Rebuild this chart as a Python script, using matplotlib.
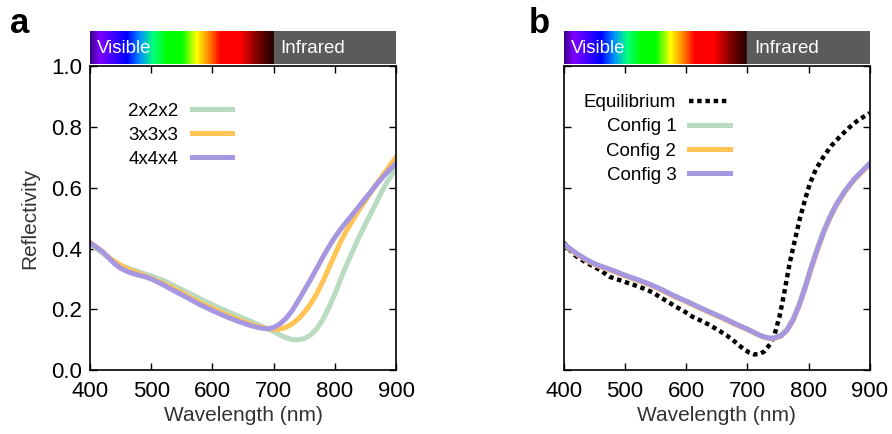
import numpy as np
import matplotlib.pyplot as plt
from matplotlib.colors import LinearSegmentedColormap

plt.rcParams['font.family'] = ['Liberation Sans', 'DejaVu Sans']

# panel a
wl_a = [400, 410, 420, 430, 440, 450, 460, 470, 480, 490, 500, 520, 540, 560, 580, 600,
        620, 640, 660, 680, 690, 700, 710, 720, 730, 740, 750, 760, 770, 780, 790, 800,
        810, 820, 830, 840, 850, 860, 870, 880, 890, 900]
r_222 = [0.415, 0.400, 0.385, 0.370, 0.357, 0.345, 0.337, 0.330, 0.323, 0.316, 0.310, 0.295,
         0.275, 0.255, 0.235, 0.215, 0.197, 0.180, 0.163, 0.145, 0.136, 0.127, 0.116, 0.107,
         0.101, 0.100, 0.104, 0.115, 0.135, 0.165, 0.205, 0.250, 0.302, 0.350, 0.395, 0.440,
         0.480, 0.520, 0.560, 0.600, 0.633, 0.665]
r_333 = [0.420, 0.405, 0.390, 0.372, 0.357, 0.345, 0.335, 0.326, 0.318, 0.310, 0.302, 0.285,
         0.265, 0.243, 0.222, 0.203, 0.185, 0.168, 0.153, 0.141, 0.137, 0.134, 0.135, 0.141,
         0.152, 0.168, 0.190, 0.217, 0.250, 0.290, 0.335, 0.380, 0.425, 0.462, 0.495, 0.528,
         0.558, 0.588, 0.617, 0.645, 0.673, 0.700]
r_444 = [0.418, 0.405, 0.390, 0.370, 0.350, 0.335, 0.325, 0.318, 0.312, 0.307, 0.300, 0.280,
         0.258, 0.237, 0.215, 0.196, 0.178, 0.162, 0.148, 0.138, 0.136, 0.140, 0.152, 0.170,
         0.195, 0.228, 0.262, 0.297, 0.333, 0.370, 0.405, 0.437, 0.465, 0.490, 0.515, 0.540,
         0.565, 0.590, 0.615, 0.638, 0.660, 0.680]

# panel b
wl_eq = [400, 410, 420, 430, 440, 450, 460, 475, 490, 500, 515, 530, 545, 557, 570, 584,
         598, 611, 625, 639, 652, 666, 680, 693, 703, 711, 720, 728, 737, 745, 753, 760,
         769, 778, 786, 795, 802, 812, 824, 837, 851, 865, 878, 890, 900]
r_eq = [0.420, 0.395, 0.375, 0.362, 0.350, 0.340, 0.328, 0.307, 0.297, 0.290, 0.280, 0.269,
        0.256, 0.241, 0.225, 0.208, 0.192, 0.175, 0.162, 0.148, 0.132, 0.115, 0.093, 0.071,
        0.058, 0.052, 0.053, 0.062, 0.085, 0.120, 0.180, 0.250, 0.350, 0.430, 0.500, 0.565,
        0.612, 0.660, 0.700, 0.737, 0.767, 0.795, 0.817, 0.833, 0.845]
wl_cfg = [400, 410, 420, 430, 440, 450, 460, 470, 480, 490, 500, 520, 540, 560, 580, 600,
          620, 640, 660, 680, 700, 710, 720, 730, 737, 745, 755, 765, 775, 785, 795, 805,
          815, 825, 835, 845, 860, 875, 890, 900]
r_cfg1 = [0.415, 0.400, 0.385, 0.372, 0.360, 0.350, 0.342, 0.335, 0.328, 0.320, 0.312, 0.298,
          0.283, 0.265, 0.245, 0.227, 0.208, 0.190, 0.172, 0.153, 0.135, 0.125, 0.115, 0.108,
          0.105, 0.107, 0.115, 0.135, 0.170, 0.220, 0.280, 0.345, 0.405, 0.460, 0.505, 0.545,
          0.592, 0.630, 0.660, 0.680]
r_cfg2 = [0.413, 0.398, 0.383, 0.370, 0.358, 0.348, 0.340, 0.333, 0.326, 0.318, 0.310, 0.296,
          0.281, 0.263, 0.243, 0.225, 0.206, 0.188, 0.170, 0.151, 0.134, 0.124, 0.114, 0.107,
          0.104, 0.105, 0.112, 0.131, 0.165, 0.214, 0.273, 0.338, 0.398, 0.454, 0.500, 0.540,
          0.588, 0.627, 0.657, 0.677]
r_cfg3 = [0.415, 0.400, 0.385, 0.372, 0.360, 0.350, 0.342, 0.335, 0.328, 0.320, 0.312, 0.298,
          0.283, 0.265, 0.245, 0.227, 0.208, 0.190, 0.172, 0.153, 0.135, 0.125, 0.115, 0.108,
          0.105, 0.106, 0.113, 0.132, 0.166, 0.215, 0.275, 0.340, 0.400, 0.456, 0.502, 0.542,
          0.590, 0.628, 0.659, 0.679]

spec_nodes = [0.0, 0.05, 0.20, 0.27, 0.34, 0.42, 0.50, 0.58, 0.65, 0.71, 0.82, 0.91, 1.0]
spec_cols = ['#3a0090', '#8000ff', '#0000ff', '#0090ff', '#00ff80', '#00ff00', '#00ff00',
             '#ffff00', '#ff8000', '#ff0000', '#ff0000', '#800000', '#200000']

green = '#b9dbc1'
orange = '#ffc453'
purple = '#a796e0'

fig = plt.figure(figsize=(8.92, 4.34), dpi=100)
cmap = LinearSegmentedColormap.from_list('spec', list(zip(spec_nodes, spec_cols)))


def setup(ax, barax, labels=True):
    ax.set_xlim(400, 900)
    ax.set_ylim(0, 1)
    ax.set_xticks([400, 500, 600, 700, 800, 900])
    ax.set_yticks([0, 0.2, 0.4, 0.6, 0.8, 1.0])
    ax.tick_params(direction='in', top=True, right=True, length=5, width=1,
                   labelsize=16, pad=6)
    ax.tick_params(axis='x', pad=8)
    if labels:
        ax.set_yticklabels(['0.0', '0.2', '0.4', '0.6', '0.8', '1.0'])
        ax.set_ylabel('Reflectivity', fontsize=15, color='#333333', labelpad=8)
    else:
        ax.set_yticklabels([])
    ax.set_xlabel('Wavelength (nm)', fontsize=15, color='#333333', labelpad=3)
    for s in ax.spines.values():
        s.set_linewidth(1.2)
    # spectrum bar
    grad = np.linspace(0, 1, 300).reshape(1, -1)
    barax.imshow(grad, aspect='auto', cmap=cmap, extent=[400, 700, 0, 1])
    barax.axvspan(700, 900, color='#5b5b5b')
    barax.set_xlim(400, 900)
    barax.set_ylim(0, 1)
    barax.axis('off')
    barax.text(411, 0.45, 'Visible', color='white', fontsize=13.5, va='center')
    barax.text(711, 0.45, 'Infrared', color='white', fontsize=13.5, va='center')


ax1 = fig.add_axes([0.101, 0.147, 0.343, 0.701])
bar1 = fig.add_axes([0.101, 0.853, 0.343, 0.076])
ax1.plot(wl_a, r_222, color=green, lw=3.6, label='2x2x2')
ax1.plot(wl_a, r_333, color=orange, lw=3.6, label='3x3x3')
ax1.plot(wl_a, r_444, color=purple, lw=3.6, label='4x4x4')
setup(ax1, bar1)
ax1.legend(loc='upper right', bbox_to_anchor=(0.464, 0.88), frameon=False, markerfirst=False,
           fontsize=13.5, handlelength=2.15, labelspacing=0.37, handletextpad=0.7,
           borderpad=0, borderaxespad=0)

ax2 = fig.add_axes([0.632, 0.147, 0.343, 0.701])
bar2 = fig.add_axes([0.632, 0.853, 0.343, 0.076])
ax2.plot(wl_eq, r_eq, color='black', lw=3.2, ls=(0, (1, 0.85)), label='Equilibrium', zorder=1)
ax2.plot(wl_cfg, r_cfg1, color=green, lw=3.6, label='Config 1')
ax2.plot(wl_cfg, r_cfg2, color=orange, lw=3.6, label='Config 2')
ax2.plot(wl_cfg, r_cfg3, color=purple, lw=3.6, label='Config 3')
setup(ax2, bar2, labels=False)
ax2.legend(loc='upper right', bbox_to_anchor=(0.5425, 0.907), frameon=False, markerfirst=False,
           fontsize=13.5, handlelength=2.15, labelspacing=0.37, handletextpad=0.7,
           borderpad=0, borderaxespad=0)

fig.text(0.011, 0.924, 'a', fontsize=25, fontweight='bold', va='baseline')
fig.text(0.593, 0.924, 'b', fontsize=25, fontweight='bold', va='baseline')

fig.savefig('out.png', dpi=100)
